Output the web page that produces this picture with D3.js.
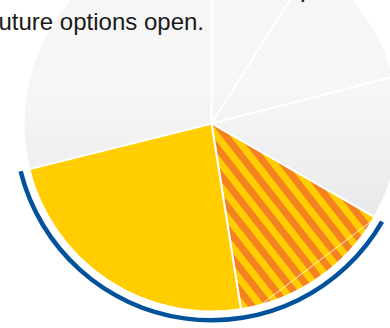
<!DOCTYPE html>
<html>
<head>
<meta charset="utf-8">
<script src="https://cdn.jsdelivr.net/npm/d3@7"></script>
<style>
  html, body { margin: 0; padding: 0; background: #ffffff; }
  svg { display: block; }
</style>
</head>
<body>
<svg id="chart" width="390" height="328"></svg>
<script>
// ---- data ----
const categories = ["A", "B", "C", "D", "E", "F"];
const values = [9, 12, 12.3, 14.2, 23.6, 28.9];
const highlighted = ["D", "E"];          // bracketed by the blue arc
const chordSplit = [33.6, 45.8];         // cumulative % positions of the thin white chord inside D
const captionLines = ["uture options open."];
const topFragment = ".";

// ---- styles (kept separate from data) ----
const fillKind = { A: "gray", B: "gray", C: "gray", D: "hatch", E: "yellow", F: "gray" };
const YELLOW = "#ffcd00", ORANGE = "#f58220", BLUE = "#01519b";

const W = 390, H = 328;
const cx = 211.5, cy = 123.5, R = 188;

const svg = d3.select("#chart");
const defs = svg.append("defs");

const grad = defs.append("linearGradient")
  .attr("id", "grayGrad")
  .attr("gradientUnits", "userSpaceOnUse")
  .attr("x1", 0).attr("y1", -30).attr("x2", 0).attr("y2", 135);
grad.append("stop").attr("offset", 0).attr("stop-color", "#f6f6f7");
grad.append("stop").attr("offset", 1).attr("stop-color", "#e4e5e7");

const pat = defs.append("pattern")
  .attr("id", "hatch")
  .attr("patternUnits", "userSpaceOnUse")
  .attr("width", 14).attr("height", 14)
  .attr("patternTransform", "rotate(-38)");
pat.append("rect").attr("width", 14).attr("height", 14).attr("fill", YELLOW);
pat.append("rect").attr("width", 7).attr("height", 14).attr("fill", ORANGE);

const fillFor = k => ({ gray: "url(#grayGrad)", hatch: "url(#hatch)", yellow: YELLOW })[k];

const g = svg.append("g").attr("transform", `translate(${cx},${cy})`);

const data = categories.map((c, i) => ({ cat: c, value: values[i] }));
const pie = d3.pie().sort(null).value(d => d.value).startAngle(0).endAngle(2 * Math.PI);
const arcs = pie(data);
const arc = d3.arc().innerRadius(0).outerRadius(R);

g.selectAll("path.slice")
  .data(arcs)
  .join("path")
  .attr("class", "slice")
  .attr("d", arc)
  .attr("fill", d => fillFor(fillKind[d.data.cat]))
  .attr("stroke", "#ffffff")
  .attr("stroke-width", 2)
  .attr("stroke-linejoin", "round");

// thin white chord inside the hatched slice
const total = d3.sum(values);
const angleScale = d3.scaleLinear().domain([0, total]).range([0, 2 * Math.PI]);
const pt = a => [R * Math.sin(a), -R * Math.cos(a)];
const [p1, p2] = chordSplit.map(v => pt(angleScale(v)));
g.append("line")
  .attr("x1", p1[0]).attr("y1", p1[1])
  .attr("x2", p2[0]).attr("y2", p2[1])
  .attr("stroke", "#ffffff")
  .attr("stroke-width", 0.8);

// blue bracket arc
const hl = arcs.filter(d => highlighted.includes(d.data.cat));
const bracket = d3.arc()
  .innerRadius(194.5).outerRadius(199)
  .startAngle(d3.min(hl, d => d.startAngle))
  .endAngle(d3.max(hl, d => d.endAngle));
g.append("path").attr("d", bracket()).attr("fill", BLUE);

// text
svg.selectAll("text.caption")
  .data(captionLines)
  .join("text")
  .attr("class", "caption")
  .attr("x", 204)
  .attr("y", (d, i) => 30 + i * 28)
  .attr("text-anchor", "end")
  .attr("font-family", "'Liberation Sans', Arial, Helvetica, sans-serif")
  .attr("font-size", 24)
  .attr("fill", "#1a1a1a")
  .text(d => d);

svg.append("text")
  .attr("x", 299.5).attr("y", 1.5)
  .attr("font-family", "'Liberation Sans', Arial, Helvetica, sans-serif")
  .attr("font-size", 24)
  .attr("fill", "#1a1a1a")
  .text(topFragment);
</script>
</body>
</html>
